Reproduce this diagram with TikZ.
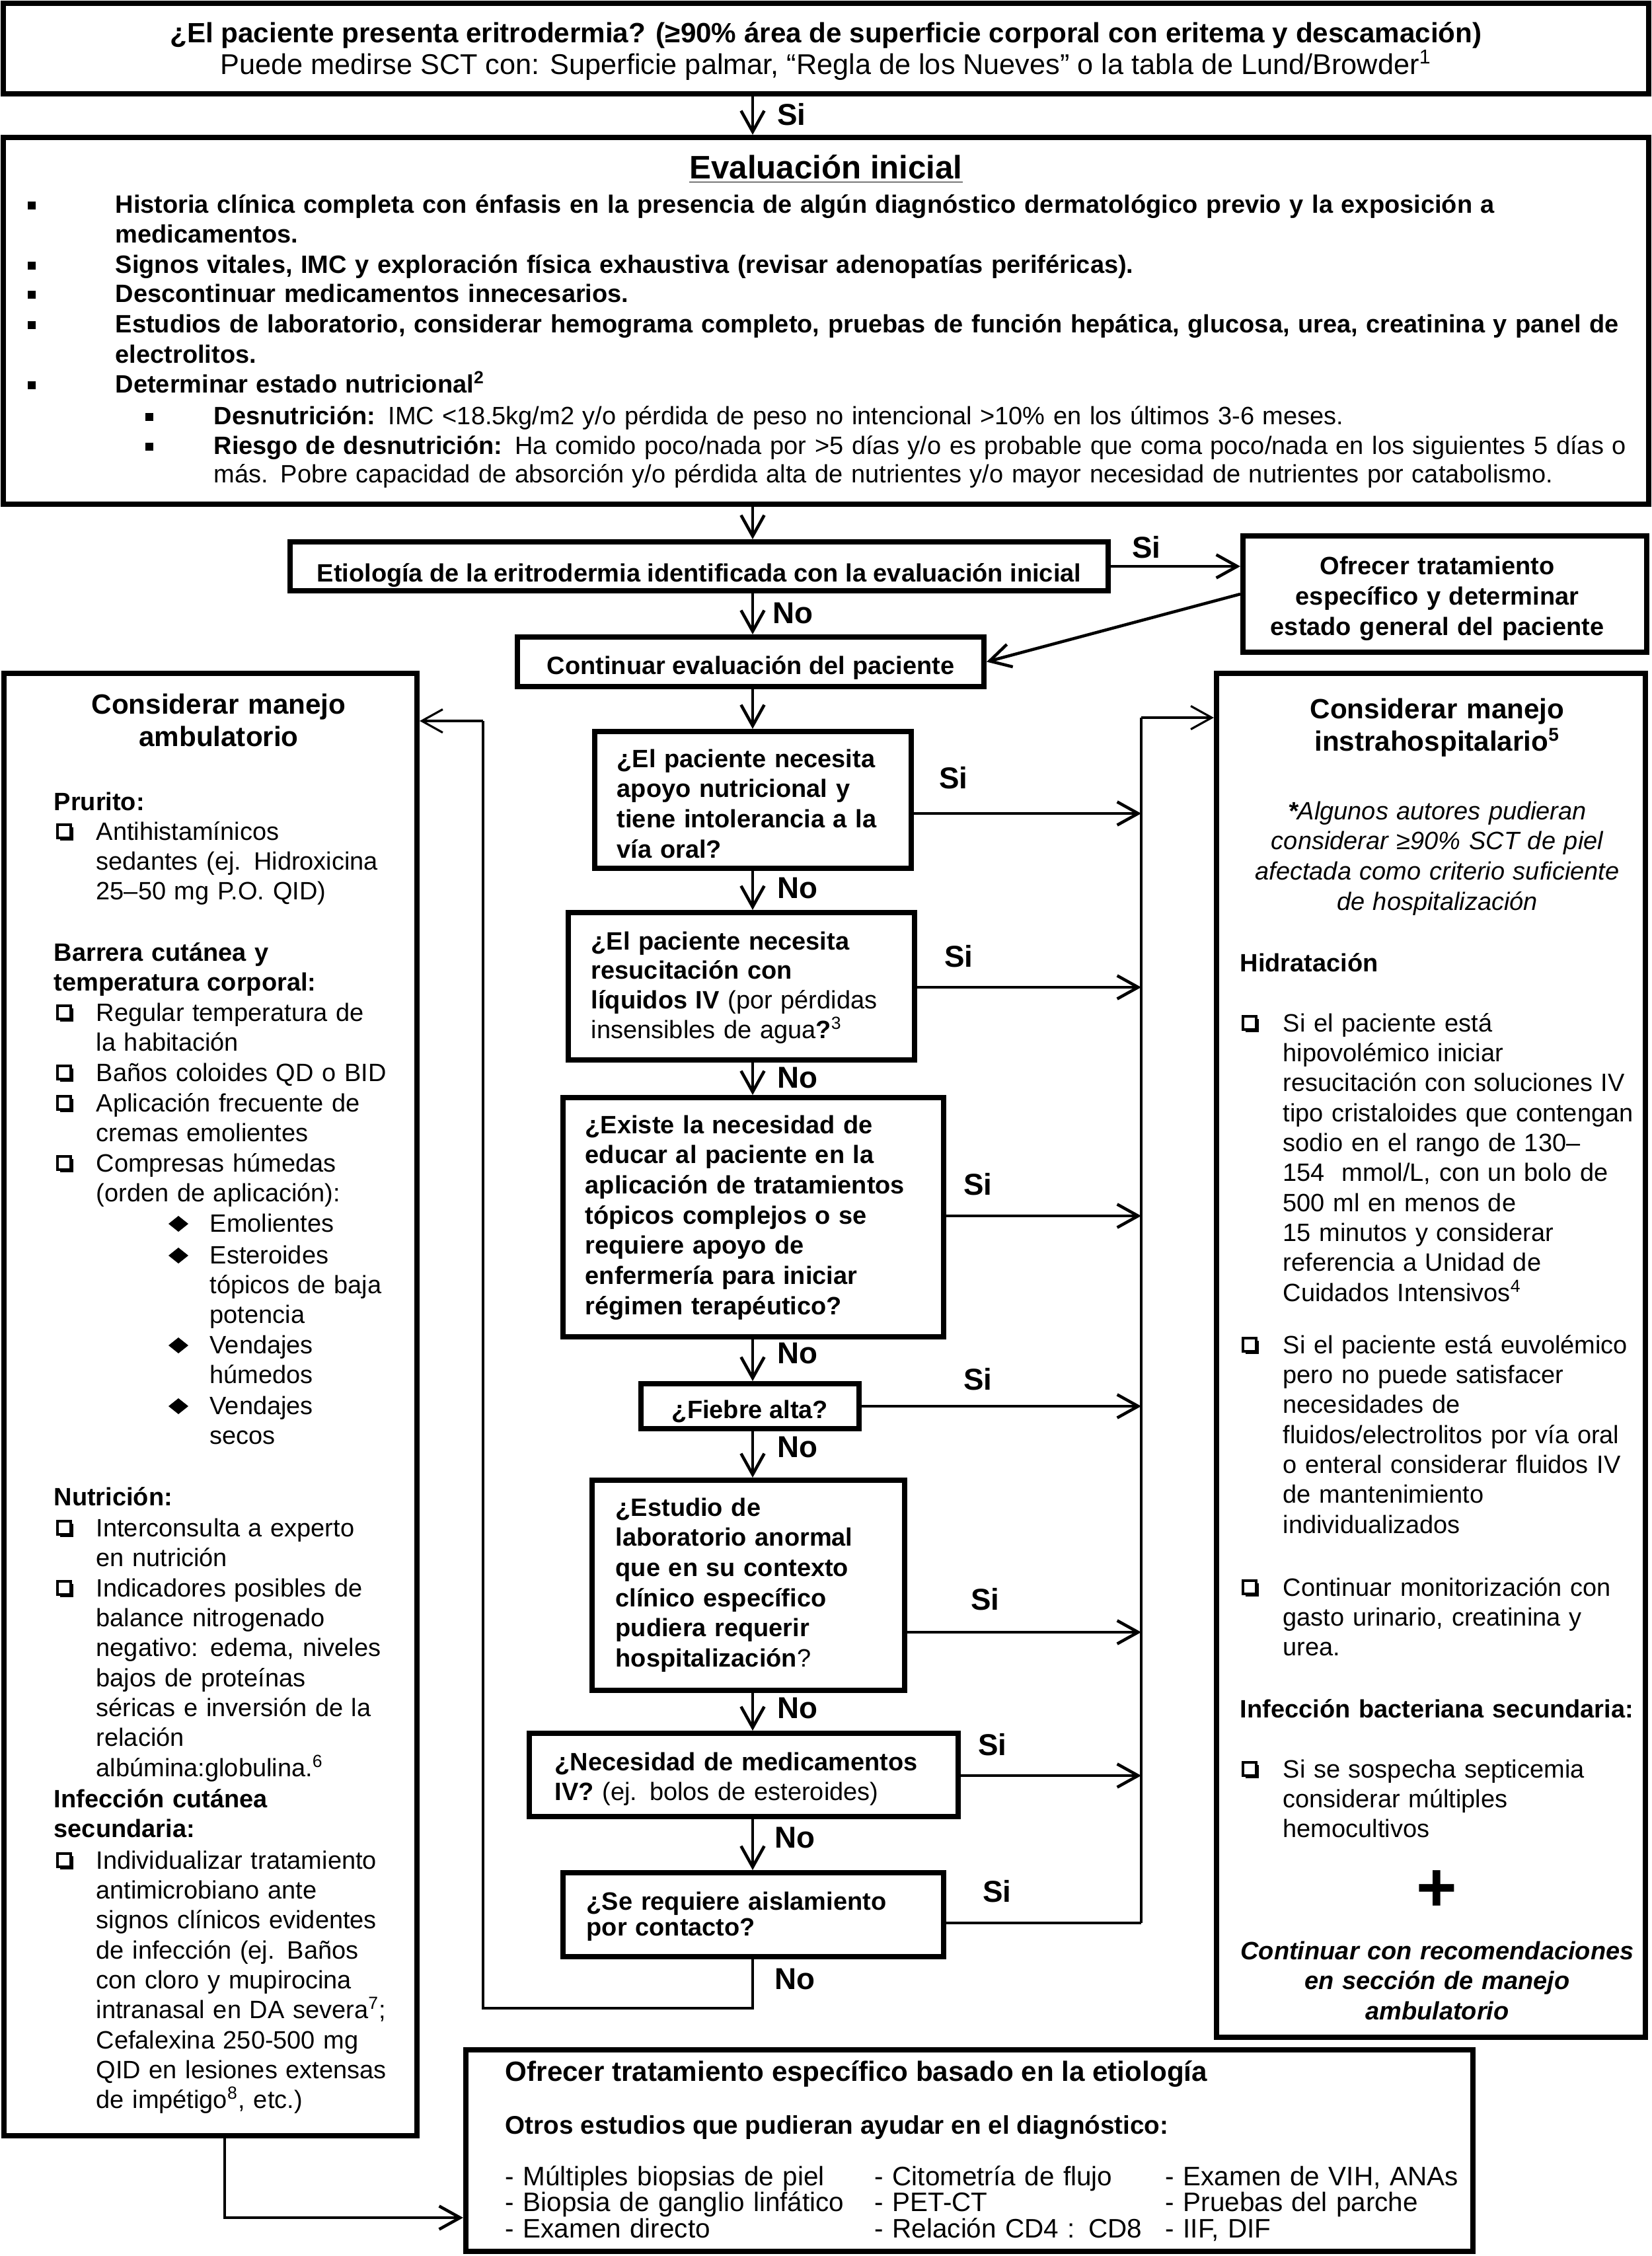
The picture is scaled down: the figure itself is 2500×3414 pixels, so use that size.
\documentclass[tikz,border=0pt]{standalone}
\usepackage{fontspec}
\setmainfont{Liberation Sans}
\usetikzlibrary{arrows.meta,fit}
\tikzset{
  box/.style={draw,line width=2.3pt,inner sep=0pt},
  tipA/.style={-{Straight Barb[length=9pt,width=10pt]}},
  arr/.style={line width=1.3pt,tipA},
  conn/.style={line width=1.3pt},
  coll/.style={line width=0.9pt},
  lab/.style={font=\fontsize{13}{13}\selectfont\bfseries,inner sep=0pt},
  st/.style={font=\fontsize{10.8}{12.9}\selectfont,align=left,anchor=base west,inner sep=0pt,text width=#1},
  st/.default=6.2cm,
  sb/.style={st=#1,font=\fontsize{10.8}{12.9}\selectfont\bfseries},
  sb/.default=6.2cm,
  qt/.style={font=\fontsize{10.8}{13}\selectfont\bfseries,align=left,anchor=base west,inner sep=0pt,text width=#1},
  qt/.default=6.5cm,
  ttl/.style={font=\fontsize{12}{14.2}\selectfont\bfseries,align=center,anchor=base,inner sep=0pt,text width=6.4cm},
  one/.style={inner sep=0pt,anchor=base},
  chk/.pic={
    \draw[line width=0.9pt] (-11,-11) rectangle (9,9);
    \fill (9,-7) rectangle (13,13);
    \fill (-7,9) rectangle (13,13);
  },
  dia/.pic={\fill (-15,0) -- (0,-12) -- (15,0) -- (0,12) -- cycle;},
  sq/.pic={\fill (-6,-6) rectangle (6,6);}
}
\begin{document}
\lineskiplimit=-20pt
\begin{tikzpicture}[x=0.01cm,y=-0.01cm]
\useasboundingbox (0,0) rectangle (2500,3414);

% ---------- boxes ----------
\node[box,fit={(5,5)(2495,142)}] (top) {};
\node[box,fit={(5,208)(2495,763)}] (eval) {};
\node[box,fit={(439,820)(1677,894)}] (etio) {};
\node[box,fit={(1881,811)(2492,987)}] (ofr) {};
\node[box,fit={(783,964)(1489,1039)}] (cont) {};
\node[box,fit={(900,1107)(1379,1314)}] (q1) {};
\node[box,fit={(860,1381)(1384,1604)}] (q2) {};
\node[box,fit={(852,1661)(1428,2023)}] (q3) {};
\node[box,fit={(970,2094)(1300,2162)}] (q4) {};
\node[box,fit={(896,2240)(1369,2558)}] (q5) {};
\node[box,fit={(801,2623)(1450,2749)}] (q6) {};
\node[box,fit={(852,2834)(1428,2961)}] (q7) {};
\node[box,fit={(6,1019)(631,3232)}] (L) {};
\node[box,fit={(1841,1019)(2490,3083)}] (R) {};
\node[box,fit={(705,3102)(2229,3407)}] (B) {};

% ---------- top box ----------
\node[one,font=\fontsize{12}{13}\selectfont\bfseries] (top1) at (1250,64) {¿El paciente presenta eritrodermia? (≥90\% área de superficie corporal con eritema y descamación)};
\node[one,font=\fontsize{12.3}{13}\selectfont] (top2) at (1250,112) {Puede medirse SCT con: Superficie palmar, “Regla de los Nueves” o la tabla de Lund/Browder\textsuperscript{1}};

% ---------- evaluacion inicial ----------
\node[one,font=\fontsize{14}{14}\selectfont\bfseries] (evt) at (1250,270) {\underline{Evaluación inicial}};
\pic at (48,311) {sq};
\pic at (48,402) {sq};
\pic at (48,446) {sq};
\pic at (48,492) {sq};
\pic at (48,583) {sq};
\pic at (226,631) {sq};
\pic at (226,676) {sq};
\node[qt=24cm,font=\fontsize{10.8}{12.8}\selectfont\bfseries] (e1) at (174,322) {Historia clínica completa con énfasis en la presencia de algún diagnóstico dermatológico previo y la exposición a\\medicamentos.};
\node[qt=24cm] (e2) at (174,413) {Signos vitales, IMC y exploración física exhaustiva (revisar adenopatías periféricas).};
\node[qt=24cm] (e3) at (174,457) {Descontinuar medicamentos innecesarios.};
\node[qt=24cm,font=\fontsize{10.8}{13.3}\selectfont\bfseries] (e4) at (174,503) {Estudios de laboratorio, considerar hemograma completo, pruebas de función hepática, glucosa, urea, creatinina y panel de\\electrolitos.};
\node[qt=24cm] (e5) at (174,594) {Determinar estado nutricional\textsuperscript{2}};
\node[st=22cm] (e6) at (323,642) {\textbf{Desnutrición:} IMC <18.5kg/m2 y/o pérdida de peso no intencional >10\% en los últimos 3-6 meses.};
\node[st=22cm,font=\fontsize{10.8}{12.5}\selectfont] (e7) at (323,687) {\textbf{Riesgo de desnutrición:} Ha comido poco/nada por >5 días y/o es probable que coma poco/nada en los siguientes 5 días o\\más. Pobre capacidad de absorción y/o pérdida alta de nutrientes y/o mayor necesidad de nutrientes por catabolismo.};

% ---------- etiologia / ofrecer / continuar ----------
\node[one,font=\fontsize{10.8}{13}\selectfont\bfseries] (etiot) at (1058,880) {Etiología de la eritrodermia identificada con la evaluación inicial};
\node[qt=6cm,align=center,anchor=base,font=\fontsize{10.8}{13.2}\selectfont\bfseries] (ofrt) at (2175,869) {Ofrecer tratamiento\\específico y determinar\\estado general del paciente};
\node[one,font=\fontsize{10.8}{13}\selectfont\bfseries] (contt) at (1136,1020) {Continuar evaluación del paciente};

% ---------- questions ----------
\node[qt] (q1t) at (933,1161) {¿El paciente necesita\\apoyo nutricional y\\tiene intolerancia a la\\vía oral?};
\node[qt,font=\fontsize{10.8}{12.7}\selectfont\bfseries] (q2t) at (894,1437) {¿El paciente necesita\\resucitación con\\líquidos IV \textmd{(por pérdidas}\\\textmd{insensibles de agua}?\textmd{\textsuperscript{3}}};
\node[qt] (q3t) at (885,1715) {¿Existe la necesidad de\\educar al paciente en la\\aplicación de tratamientos\\tópicos complejos o se\\requiere apoyo de\\enfermería para iniciar\\régimen terapéutico?};
\node[one,font=\fontsize{10.8}{13}\selectfont\bfseries] (q4t) at (1135,2146) {¿Fiebre alta?};
\node[qt] (q5t) at (931,2294) {¿Estudio de\\laboratorio anormal\\que en su contexto\\clínico específico\\pudiera requerir\\hospitalización\textmd{?}};
\node[qt] (q6t) at (839,2679) {¿Necesidad de medicamentos\\IV? \textmd{(ej. bolos de esteroides)}};
\node[qt,font=\fontsize{10.8}{11.3}\selectfont\bfseries] (q7t) at (887,2890) {¿Se requiere aislamiento\\por contacto?};

% ---------- left box ----------
\node[ttl] (lt) at (331,1080) {Considerar manejo\\ambulatorio};
\node[sb] (l1) at (81,1226) {Prurito:};
\pic at (98,1259) {chk};
\node[st] (l2) at (145,1271) {Antihistamínicos\\sedantes (ej. Hidroxicina\\25–50 mg P.O. QID)};
\node[sb] (l3) at (81,1454) {Barrera cutánea y\\temperatura corporal:};
\pic at (98,1533) {chk};
\node[st] (l4) at (145,1545) {Regular temperatura de\\la habitación};
\pic at (98,1624) {chk};
\node[st] (l5) at (145,1636) {Baños coloides QD o BID};
\pic at (98,1670) {chk};
\node[st] (l6) at (145,1682) {Aplicación frecuente de\\cremas emolientes};
\pic at (98,1761) {chk};
\node[st] (l7) at (145,1773) {Compresas húmedas\\(orden de aplicación):};
\pic at (270,1852) {dia};
\node[st] (l8) at (317,1864) {Emolientes};
\pic at (270,1900) {dia};
\node[st] (l9) at (317,1912) {Esteroides\\tópicos de baja\\potencia};
\pic at (270,2036) {dia};
\node[st] (l10) at (317,2048) {Vendajes\\húmedos};
\pic at (270,2128) {dia};
\node[st] (l11) at (317,2140) {Vendajes\\secos};
\node[sb] (l12) at (81,2278) {Nutrición:};
\pic at (98,2313) {chk};
\node[st] (l13) at (145,2325) {Interconsulta a experto\\en nutrición};
\pic at (98,2404) {chk};
\node[st] (l14) at (145,2416) {Indicadores posibles de\\balance nitrogenado\\negativo: edema, niveles\\bajos de proteínas\\séricas e inversión de la\\relación\\albúmina:globulina.\textsuperscript{6}};
\node[sb] (l15) at (81,2735) {Infección cutánea\\secundaria:};
\pic at (98,2816) {chk};
\node[st] (l16) at (145,2828) {Individualizar tratamiento\\antimicrobiano ante\\signos clínicos evidentes\\de infección (ej. Baños\\con cloro y mupirocina\\intranasal en DA severa\textsuperscript{7};\\Cefalexina 250-500 mg\\QID en lesiones extensas\\de impétigo\textsuperscript{8}, etc.)};

% ---------- right box ----------
\node[ttl] (rt) at (2175,1087) {Considerar manejo\\instrahospitalario\textsuperscript{5}};
\node[ttl,text width=6.4cm,font=\fontsize{10.8}{13}\selectfont\itshape] (r1) at (2175,1240) {\textbf{*}Algunos autores pudieran\\considerar ≥90\% SCT de piel\\afectada como criterio suficiente\\de hospitalización};
\node[sb] (r2) at (1876,1470) {Hidratación};
\pic at (1892,1549) {chk};
\node[st] (r3) at (1941,1561) {Si el paciente está\\hipovolémico iniciar\\resucitación con soluciones IV\\tipo cristaloides que contengan\\sodio en el rango de 130–\\154~ mmol/L, con un bolo de\\500 ml en menos de\\15 minutos y considerar\\referencia a Unidad de\\Cuidados Intensivos\textsuperscript{4}};
\pic at (1892,2036) {chk};
\node[st] (r4) at (1941,2048) {Si el paciente está euvolémico\\pero no puede satisfacer\\necesidades de\\fluidos/electrolitos por vía oral\\o enteral considerar fluidos IV\\de mantenimiento\\individualizados};
\pic at (1892,2403) {chk};
\node[st] (r5) at (1941,2415) {Continuar monitorización con\\gasto urinario, creatinina y\\urea.};
\node[sb] (r6) at (1876,2599) {Infección bacteriana secundaria:};
\pic at (1892,2678) {chk};
\node[st] (r7) at (1941,2690) {Si se sospecha septicemia\\considerar múltiples\\hemocultivos};
\node[inner sep=0pt,font=\fontsize{30}{30}\selectfont\bfseries] (plus) at (2174,2862) {+};
\node[ttl,text width=6.5cm,font=\fontsize{10.8}{13}\selectfont\bfseries\itshape] (r8) at (2175,2965) {Continuar con recomendaciones\\en sección de manejo\\ambulatorio};

% ---------- bottom box ----------
\node[one,anchor=base west,font=\fontsize{12}{14}\selectfont\bfseries] (b1) at (764,3149) {Ofrecer tratamiento específico basado en la etiología};
\node[one,anchor=base west,font=\fontsize{11}{13}\selectfont\bfseries] (b2) at (764,3229) {Otros estudios que pudieran ayudar en el diagnóstico:};
\node[st=6cm,font=\fontsize{11.5}{11.34}\selectfont] (b3) at (764,3307) {- Múltiples biopsias de piel\\- Biopsia de ganglio linfático\\- Examen directo};
\node[st=6cm,font=\fontsize{11.5}{11.34}\selectfont] (b4) at (1323,3307) {- Citometría de flujo\\- PET-CT\\- Relación CD4 : CD8};
\node[st=6cm,font=\fontsize{11.5}{11.34}\selectfont] (b5) at (1763,3307) {- Examen de VIH, ANAs\\- Pruebas del parche\\- IIF, DIF};

% ---------- coordinates ----------
\coordinate (cx) at (1139,0);
\coordinate (rc) at (1727,0);
\coordinate (lc) at (731,0);
\coordinate (lx) at (340,0);
\coordinate (y1) at (0,1231);
\coordinate (y2) at (0,1494);
\coordinate (y3) at (0,1840);
\coordinate (y4) at (0,2128);
\coordinate (y5) at (0,2470);
\coordinate (y6) at (0,2687);
\coordinate (y7) at (0,2910);
\coordinate (yR) at (0,1086);
\coordinate (yL) at (0,1091);
\coordinate (yB) at (0,3039);
\coordinate (yLB) at (0,3356);

% ---------- connectors ----------
\draw[arr] (top.south -| cx) -- (eval.north -| cx);
\draw[arr] (eval.south -| cx) -- (etio.north -| cx);
\draw[arr] (etio.east) -- (ofr.west |- etio.east);
\draw[arr] (etio.south -| cx) -- (cont.north -| cx);
\draw[arr] (ofr.west) -- (cont.east);
\draw[arr] (cont.south -| cx) -- (q1.north -| cx);
\draw[arr] (q1.south -| cx) -- (q2.north -| cx);
\draw[arr] (q2.south -| cx) -- (q3.north -| cx);
\draw[arr] (q3.south -| cx) -- (q4.north -| cx);
\draw[arr] (q4.south -| cx) -- (q5.north -| cx);
\draw[arr] (q5.south -| cx) -- (q6.north -| cx);
\draw[arr] (q6.south -| cx) -- (q7.north -| cx);

\draw[arr] (q1.east |- y1) -- (rc |- y1);
\draw[arr] (q2.east |- y2) -- (rc |- y2);
\draw[arr] (q3.east |- y3) -- (rc |- y3);
\draw[arr] (q4.east |- y4) -- (rc |- y4);
\draw[arr] (q5.east |- y5) -- (rc |- y5);
\draw[arr] (q6.east |- y6) -- (rc |- y6);
\draw[conn] (q7.east |- y7) -- (rc |- y7);
\draw[coll] (rc |- y7) -- (rc |- yR);
\draw[coll,tipA] (rc |- yR) -- (R.west |- yR);

\draw[coll] (q7.south -| cx) -- (cx |- yB) -- (lc |- yB) -- (lc |- yL);
\draw[coll,tipA] (lc |- yL) -- (L.east |- yL);

\draw[arr] (L.south -| lx) -- (lx |- yLB) -- (B.west |- yLB);

% ---------- labels ----------
\node[lab] (s0) at (1198,173) {Si};
\node[lab] (s1) at (1735,828) {Si};
\node[lab] (n1) at (1200,928) {No};
\node[lab] (s2) at (1443,1177) {Si};
\node[lab] (n2) at (1207,1344) {No};
\node[lab] (s3) at (1451,1447) {Si};
\node[lab] (n3) at (1207,1631) {No};
\node[lab] (s4) at (1480,1792) {Si};
\node[lab] (n4) at (1207,2048) {No};
\node[lab] (s5) at (1480,2087) {Si};
\node[lab] (n5) at (1207,2190) {No};
\node[lab] (s6) at (1491,2420) {Si};
\node[lab] (n6) at (1207,2585) {No};
\node[lab] (s7) at (1502,2640) {Si};
\node[lab] (n7) at (1203,2781) {No};
\node[lab] (s8) at (1509,2862) {Si};
\node[lab] (n8) at (1203,2995) {No};
\end{tikzpicture}
\end{document}
